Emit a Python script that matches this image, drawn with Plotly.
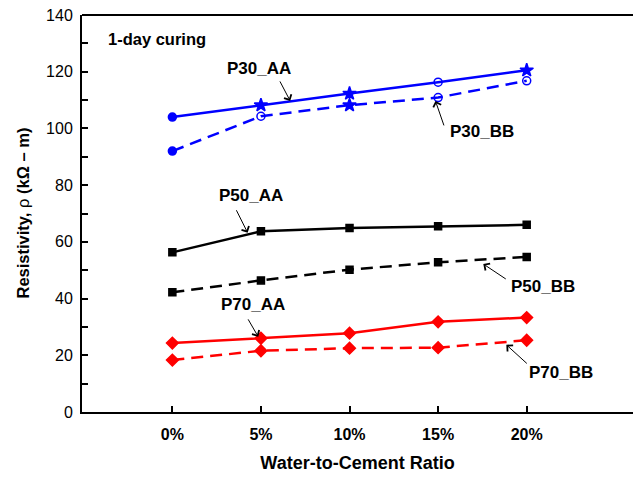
import plotly.graph_objects as go

categories = ["0%", "5%", "10%", "15%", "20%"]
p30_aa = [104.0, 108.2, 112.3, 116.3, 120.5]
p30_bb = [92.0, 104.3, 108.2, 110.9, 116.8]
p50_aa = [56.3, 63.7, 64.9, 65.5, 66.0]
p50_bb = [42.2, 46.4, 50.2, 52.8, 54.7]
p70_aa = [24.3, 26.0, 27.8, 31.8, 33.3]
p70_bb = [18.3, 21.6, 22.5, 22.7, 25.3]
y_ticks = [0, 20, 40, 60, 80, 100, 120, 140]

# label text, arrow head (category index, value), arrow tail offset px, text offset px from head
labels = [
    ("P30_AA", 1.33, 109.7, -11, -21, -31, -32),
    ("P30_BB", 2.97, 109.7, 9, 26, 47, 31),
    ("P50_AA", 0.85, 63.2, -12, -24, 3, -37),
    ("P50_BB", 3.51, 52.2, 24, 16, 60, 23),
    ("P70_AA", 0.97, 26.5, -11, -19, -5, -32),
    ("P70_BB", 3.77, 23.7, 22, 20, 55, 28),
]

fig = go.Figure()

def add(y, color, dash, symbols, sizes):
    fig.add_trace(go.Scatter(
        x=categories, y=y, mode="lines+markers",
        line=dict(color=color, width=2.5, dash=dash),
        marker=dict(color=color, symbol=symbols, size=sizes, opacity=1,
                    line=dict(color=color, width=1.5)),
        showlegend=False, cliponaxis=False))

add(p30_aa, "#0000FF", "solid",
    ["circle", "star", "star", "circle-open", "star"], [8, 10, 10, 8, 10])
add(p30_bb, "#0000FF", "12px,7px",
    ["circle", "circle-open", "star", "circle-open", "circle-open"], [8, 8, 10, 8, 8])
add(p50_aa, "#000000", "solid", "square", 7)
add(p50_bb, "#000000", "12px,7px", "square", 7)
add(p70_aa, "#FF0000", "solid", "diamond", 9)
add(p70_bb, "#FF0000", "12px,7px", "diamond", 9)

font = "Liberation Sans, Arial, sans-serif"
ann = []
for text, hx, hy, tax, tay, lx, ly in labels:
    ann.append(dict(x=hx, y=hy, xref="x", yref="y", text="", showarrow=True,
                    ax=tax, ay=tay, arrowhead=4, arrowsize=1.6, arrowwidth=1,
                    arrowcolor="black", standoff=0, startstandoff=0))
    ann.append(dict(x=hx, y=hy, xref="x", yref="y", text="<b>%s</b>" % text,
                    showarrow=False, xshift=lx, yshift=-ly,
                    font=dict(family=font, size=17, color="black")))
ann.append(dict(x=0, y=0.94, xref="paper", yref="paper", xanchor="left", yanchor="middle",
                xshift=24, text="<b>1-day curing</b>", showarrow=False,
                font=dict(family=font, size=16.5, color="black")))
ann.append(dict(x=0, y=0.5, xref="paper", yref="paper", xanchor="center", yanchor="middle",
                xshift=-60, textangle=-90, showarrow=False,
                text="<b>Resistivity, </b>ρ<b> (kΩ – m)</b>",
                font=dict(family=font, size=16.5, color="black")))

fig.update_layout(
    width=633, height=479,
    margin=dict(l=82, r=0, t=15, b=67),
    paper_bgcolor="white", plot_bgcolor="white",
    font=dict(family=font, color="black"),
    annotations=ann,
    shapes=[dict(type="line", xref="paper", yref="paper", x0=0, x1=1, y0=1, y1=1,
                 line=dict(color="black", width=2))],
    xaxis=dict(type="category", range=[-1.02, 5.2], showline=True, linecolor="black",
               linewidth=2, ticks="inside", ticklen=6, tickwidth=2, tickcolor="black",
               showgrid=False, zeroline=False,
               tickfont=dict(family=font, size=16, color="black"),
               tickprefix="<b>", ticksuffix="</b>", ticklabelstandoff=7,
               title=dict(text="<b>Water-to-Cement Ratio</b>", standoff=14,
                          font=dict(family=font, size=18, color="black"))),
    yaxis=dict(range=[0, 140], tickvals=y_ticks, showline=True, linecolor="black",
               linewidth=2, ticks="inside", ticklen=6, tickwidth=2, tickcolor="black",
               minor=dict(dtick=10, ticks="inside", ticklen=6, tickwidth=2, tickcolor="black"),
               showgrid=False, zeroline=False,
               tickfont=dict(family=font, size=16, color="black"),
               tickprefix="<b>", ticksuffix="</b>", ticklabelstandoff=4),
)

fig.write_html("out.html")
